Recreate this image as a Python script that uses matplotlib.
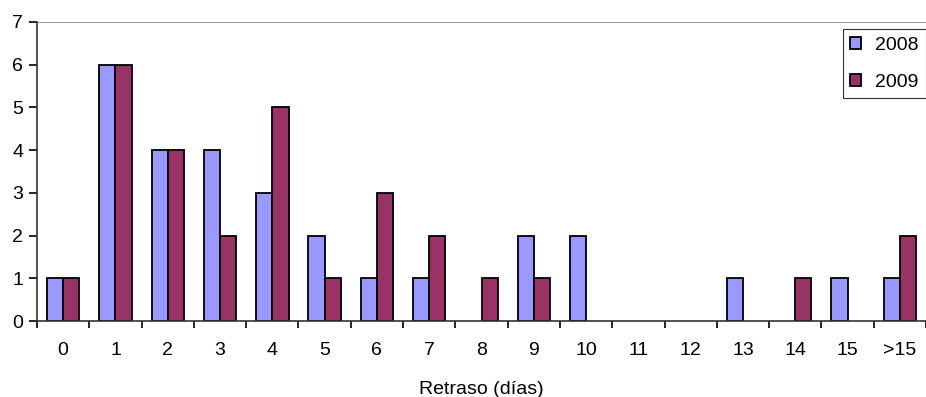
import numpy as np
import matplotlib
matplotlib.use("Agg")
import matplotlib.pyplot as plt

plt.rcParams["font.family"] = ["Liberation Sans", "DejaVu Sans"]

categories = ["0", "1", "2", "3", "4", "5", "6", "7", "8", "9", "10",
              "11", "12", "13", "14", "15", ">15"]
values_2008 = [1, 6, 4, 4, 3, 2, 1, 1, 0, 2, 2, 0, 0, 1, 0, 1, 1]
values_2009 = [1, 6, 4, 2, 5, 1, 3, 2, 1, 1, 0, 0, 0, 0, 1, 0, 2]

fs = 14

fig = plt.figure(figsize=(9.26, 3.97), dpi=100)
ax = fig.add_axes([0.040, 0.191, 0.960, 0.754])

x = np.arange(len(categories))
w = 0.31
# zero-height bars are skipped, as in the original
h08 = [v if v > 0 else np.nan for v in values_2008]
h09 = [v if v > 0 else np.nan for v in values_2009]
ax.bar(x - w / 2, h08, width=w, color="#9999FF", edgecolor="black",
       linewidth=1.3, label="2008")
ax.bar(x + w / 2, h09, width=w, color="#993366", edgecolor="black",
       linewidth=1.3, label="2009")

ax.set_xlim(-0.5, len(categories) - 0.5)
ax.set_ylim(0, 7)
ax.set_yticks(range(8))
ax.set_xticks(x)
ax.set_xticklabels(categories)
ax.set_xticks(np.arange(-0.5, len(categories), 1.0), minor=True)
ax.tick_params(axis="x", which="major", length=0, pad=15, labelsize=fs)
ax.tick_params(axis="x", which="minor", length=5, direction="out", width=1.2)
ax.tick_params(axis="y", length=6, direction="out", width=1.2, labelsize=fs, pad=4)

ax.spines["top"].set_visible(False)
ax.spines["right"].set_visible(False)
ax.spines["left"].set_color("#333333")
ax.spines["bottom"].set_color("#333333")
ax.spines["left"].set_linewidth(1.2)
ax.spines["bottom"].set_linewidth(1.2)
# grey line across the top of the plot area
ax.axhline(7, color="#999999", linewidth=1.5)

ax.set_xlabel("Retraso (días)", fontsize=fs, labelpad=16)

leg = ax.legend(loc="upper right", bbox_to_anchor=(1.0, 0.975), fontsize=fs,
                frameon=True, fancybox=False, edgecolor="black",
                handlelength=0.55, handleheight=0.55, handletextpad=0.7,
                labelspacing=1.0, borderpad=0.4, borderaxespad=0)
leg.get_frame().set_linewidth(0.8)

fig.savefig("out.png", dpi=100)
